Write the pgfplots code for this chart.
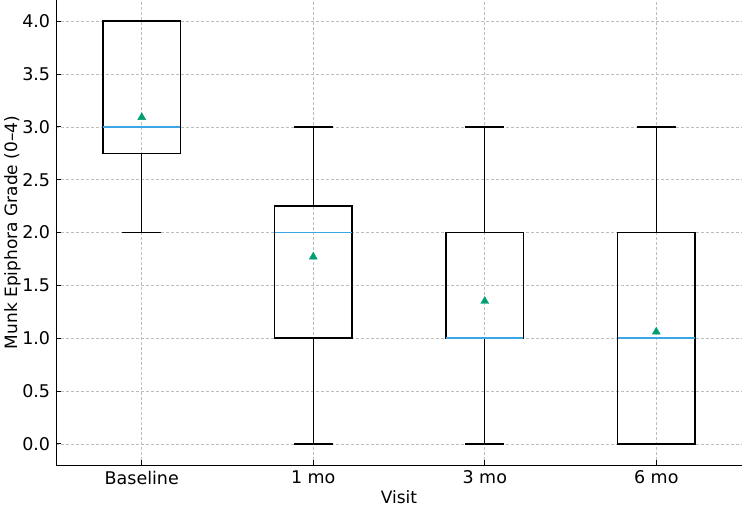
\documentclass[border=0pt]{standalone}
\usepackage{fontspec}
\setmainfont{DejaVu Sans}
\usepackage{pgfplots}
\pgfplotsset{compat=1.18}
\usepgfplotslibrary{statistics}

\definecolor{medianblue}{HTML}{3AA6E4}
\definecolor{meangreen}{HTML}{009E73}
\definecolor{gridgrey}{HTML}{BDBDBD}

\begin{document}
\begin{tikzpicture}
\fontsize{17}{21}\selectfont
\begin{axis}[
  scale only axis,
  width=686pt, height=465pt,
  xmin=0.5, xmax=4.5,
  ymin=-0.2, ymax=4.2,
  axis x line*=bottom, axis y line*=left,
  axis line style={-, line width=0.9pt},
  xtick={1,2,3,4},
  xticklabels={Baseline,1 mo,3 mo,6 mo},
  ytick={0,0.5,...,4},
  yticklabel style={/pgf/number format/.cd, fixed, fixed zerofill, precision=1},
  /pgf/number format/assume math mode=true,
  tick align=inside,
  major tick length=5pt,
  tick style={line width=0.8pt, black},
  ticklabel style={font=\fontsize{17.5}{21}\selectfont},
  label style={font=\fontsize{17}{21}\selectfont},
  xlabel={Visit},
  ylabel={Munk Epiphora Grade (0–4)},
  xlabel style={yshift=5pt},
  ylabel style={yshift=-10pt},
  grid=major,
  grid style={densely dashed, gridgrey, line width=0.6pt},
  boxplot/draw direction=y,
  boxplot/every box/.style={draw=black, line width=1.4pt},
  boxplot/every whisker/.style={draw=black, line width=1.4pt},
  boxplot/every median/.style={draw=medianblue, line width=1.4pt},
  boxplot/box extend=0.45,
  boxplot/whisker extend=0.225,
  clip=false,
]
% Baseline
\addplot[black, line width=1.4pt, boxplot prepared={draw position=1,
  lower whisker=2, lower quartile=2.75, median=3,
  upper quartile=4, upper whisker=4}] coordinates {};
% 1 month
\addplot[black, line width=1.4pt, boxplot prepared={draw position=2,
  lower whisker=0, lower quartile=1, median=2,
  upper quartile=2.25, upper whisker=3}] coordinates {};
% 3 months
\addplot[black, line width=1.4pt, boxplot prepared={draw position=3,
  lower whisker=0, lower quartile=1, median=1,
  upper quartile=2, upper whisker=3}] coordinates {};
% 6 months
\addplot[black, line width=1.4pt, boxplot prepared={draw position=4,
  lower whisker=0, lower quartile=0, median=1,
  upper quartile=2, upper whisker=3}] coordinates {};
% group means
\addplot[only marks, mark=triangle*, mark size=4.6pt,
  color=meangreen] coordinates {(1,3.09) (2,1.77) (3,1.35) (4,1.06)};
\end{axis}
\pgfresetboundingbox
\path (current axis.south west) ++(-56pt,-43pt) rectangle
      ([xshift=2pt]current axis.north east);
\end{tikzpicture}
\end{document}
